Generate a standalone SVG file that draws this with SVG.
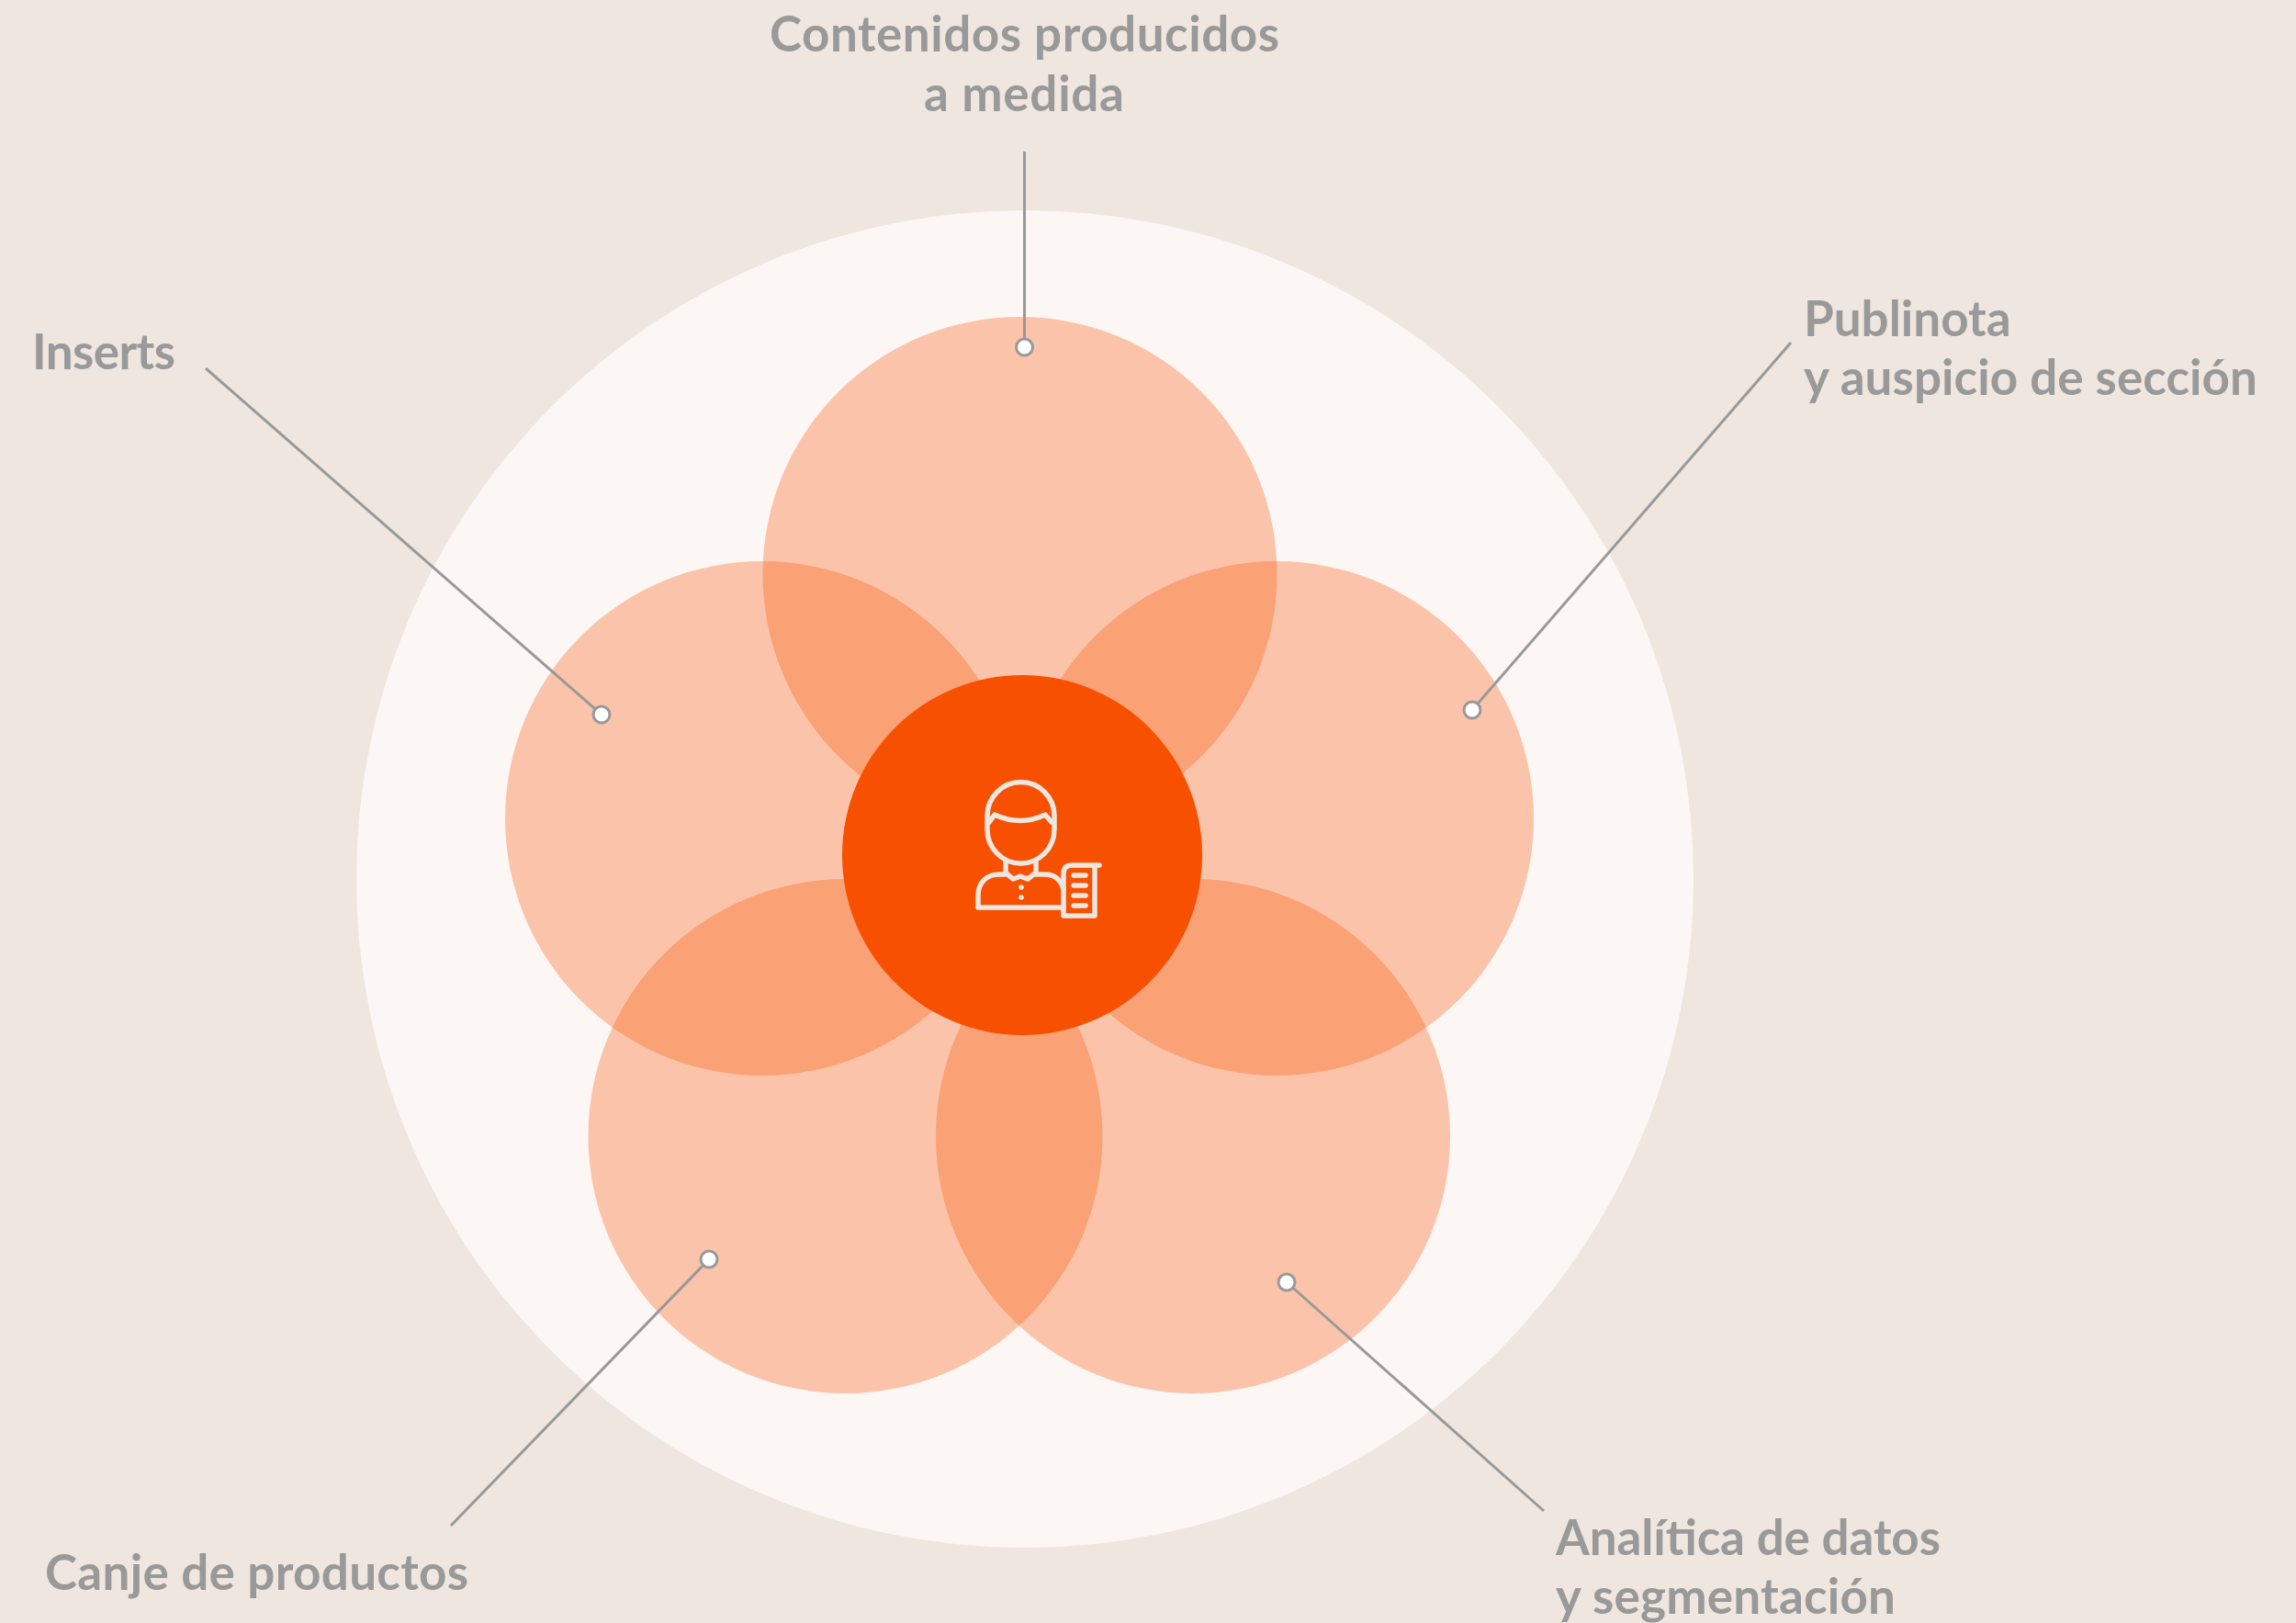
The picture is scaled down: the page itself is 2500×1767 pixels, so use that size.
<svg xmlns="http://www.w3.org/2000/svg" width="2500" height="1767" viewBox="0 0 2500 1767">
<style>
.petal{fill:#f75000;fill-opacity:.3}
.lead{stroke:#999;stroke-width:3;fill:none}
.dot{fill:#fff;stroke:#999;stroke-width:3}
.lab{font-family:"Lato","Liberation Sans",sans-serif;font-weight:700;font-size:53px;fill:#999}
.ic{fill:none;stroke:#eee6df;stroke-width:5.500;stroke-linecap:round;stroke-linejoin:round}
</style>
<rect width="2500" height="1767" fill="#eee6df"/>
<circle id="outer" cx="1116" cy="957" r="728" fill="#fcf7f4"/>
<g id="petal-top"><circle class="petal" cx="1110.500" cy="625" r="280"/></g>
<g id="petal-left"><circle class="petal" cx="830" cy="891" r="280"/></g>
<g id="petal-right"><circle class="petal" cx="1390" cy="891" r="280"/></g>
<g id="petal-bl"><circle class="petal" cx="920.500" cy="1237" r="280"/></g>
<g id="petal-br"><circle class="petal" cx="1299" cy="1237" r="280"/></g>
<g id="connectors">
<line class="lead" x1="1115.500" y1="165" x2="1115.500" y2="378"/>
<line class="lead" x1="224" y1="401" x2="655" y2="778"/>
<line class="lead" x1="1950" y1="373" x2="1603" y2="773"/>
<line class="lead" x1="1681" y1="1645" x2="1401" y2="1396"/>
<line class="lead" x1="491" y1="1661" x2="772" y2="1371"/>
</g>
<g id="center">
<circle cx="1113" cy="931" r="196" fill="#f65000"/>
<g class="ic">
<path d="M1075 888A36.500 36.500 0 0 1 1148 888V903A36.500 37 0 0 1 1075 903Z"/>
<path d="M1077 895L1083 887Q1111 900 1138 887L1145 895"/>
<path d="M1095 937V950L1103 957L1111 954L1119 957L1128 950V937"/>
<path d="M1095 952H1088C1074 952 1065 961 1065 975V988H1158"/>
<path d="M1128 952H1138C1148 952 1155 958 1158 968"/>
<path d="M1197 942H1167Q1158 942 1158 951V997H1192V942"/>
<path d="M1169 953H1182M1169 964H1182M1169 975H1182M1169 986H1182"/>
</g>
<circle cx="1112" cy="966" r="2.800" fill="#eee6df"/>
<circle cx="1112" cy="977" r="2.800" fill="#eee6df"/>
</g>
<g id="node-contenidos"><circle class="dot" cx="1115.500" cy="378" r="9"/>
<text class="lab" x="838" y="56" textLength="555">Contenidos producidos</text>
<text class="lab" x="1006" y="121" textLength="218">a medida</text></g>
<g id="node-inserts"><circle class="dot" cx="655" cy="778" r="9"/>
<text class="lab" x="35" y="402" textLength="156">Inserts</text></g>
<g id="node-publinota"><circle class="dot" cx="1603" cy="773" r="9"/>
<text class="lab" x="1964" y="366">Publinota</text>
<text class="lab" x="1964" y="430" textLength="494">y auspicio de sección</text></g>
<g id="node-analitica"><circle class="dot" cx="1401" cy="1396" r="9"/>
<text class="lab" x="1694" y="1693" textLength="419">Analítica de datos</text>
<text class="lab" x="1694" y="1757" textLength="370">y segmentación</text></g>
<g id="node-canje"><circle class="dot" cx="772" cy="1371" r="9"/>
<text class="lab" x="49" y="1731" textLength="461">Canje de productos</text></g>
</svg>
